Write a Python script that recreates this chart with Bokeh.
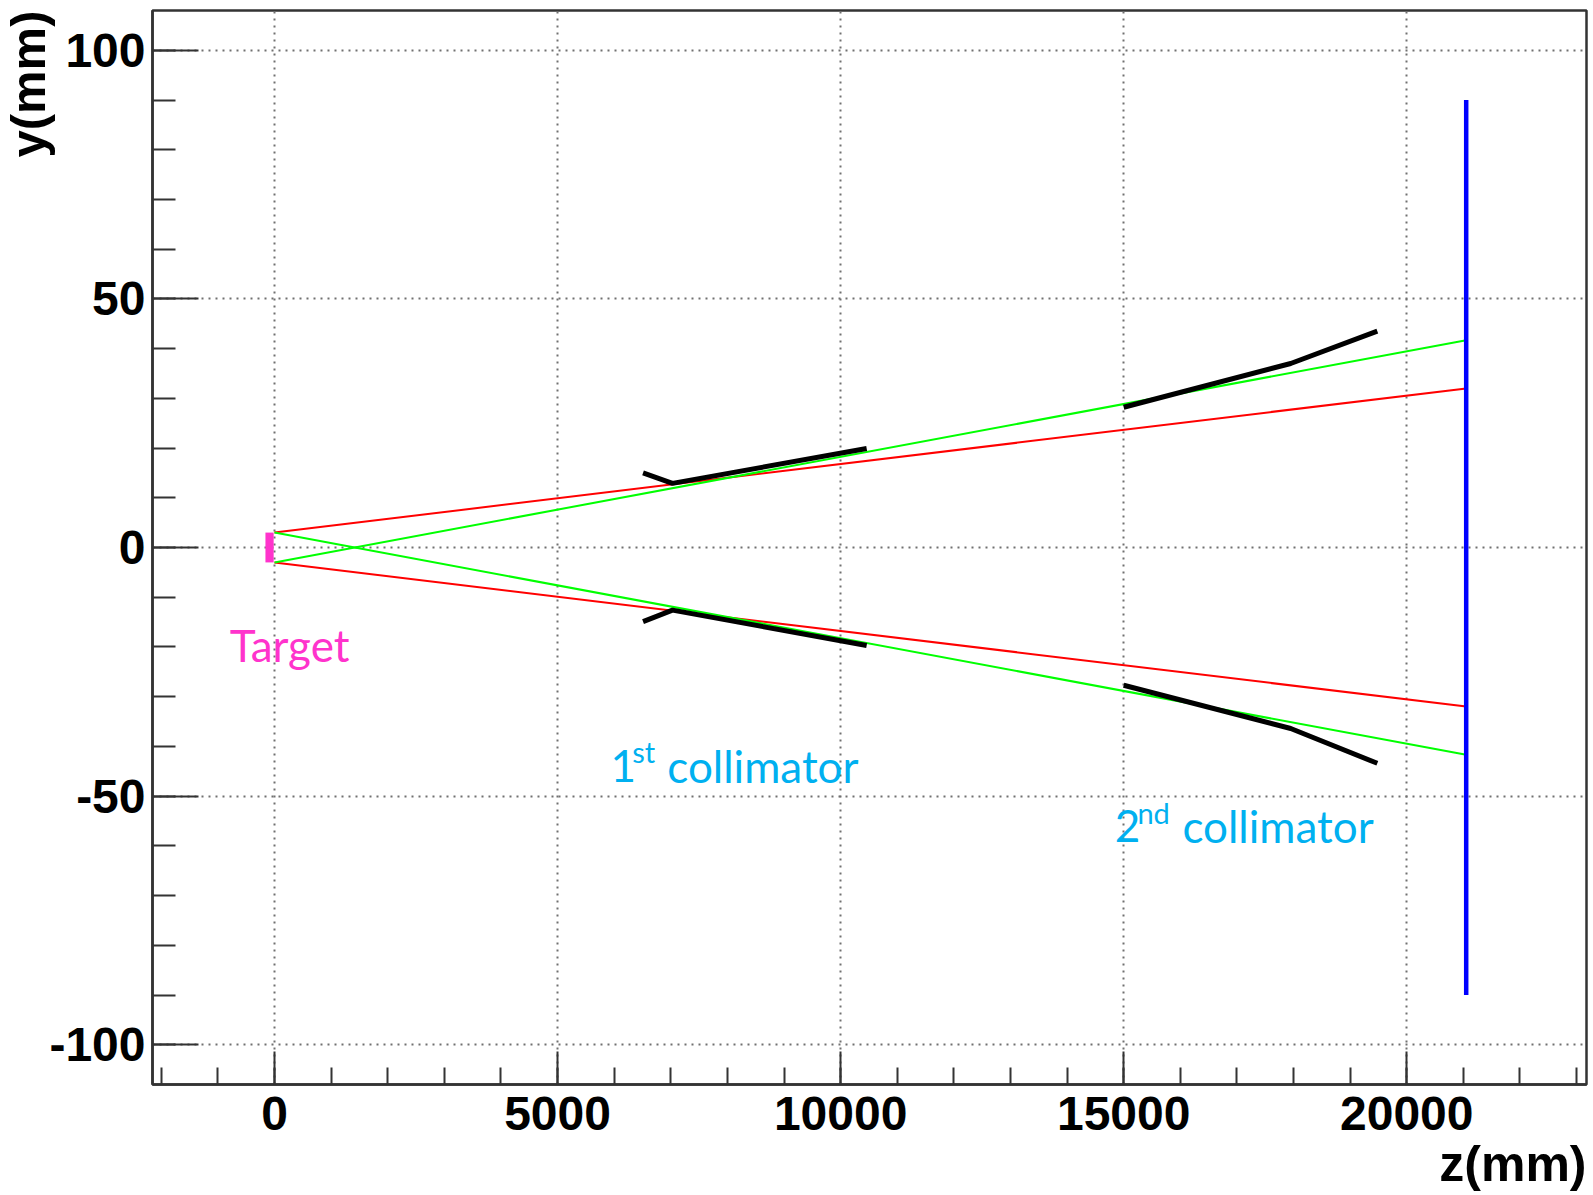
import math
from bokeh.plotting import figure
from bokeh.models import Range1d, FixedTicker, Label, CustomJSTickFormatter, Title
from bokeh.embed import file_html
from bokeh.resources import INLINE

# ---------------- data ----------------
z_ticks = [0, 5000, 10000, 15000, 20000]
z_minor = list(range(-2000, 23001, 1000))
y_ticks = [-100, -50, 0, 50, 100]
y_minor = list(range(-100, 101, 10))

line_z = [0, 21050]
red_upper = [3, 32]
red_lower = [-3, -32]
green_upper = [-3, 41.7]
green_lower = [3, -41.7]

coll1_z = [6510, 7030, 10460]
coll1_upper = [15.0, 12.9, 19.9]
coll1_lower = [-14.9, -12.6, -19.7]
coll2_z = [15000, 17950, 19480]
coll2_upper = [28.2, 37.0, 43.5]
coll2_lower = [-27.7, -36.4, -43.4]

detector_z = [21050, 21050]
detector_y = [-90, 90]

target_z = [-160, -15]
target_y = [-3, 3]

# ---------------- figure ----------------
p = figure(width=1588, height=1195,
           x_range=Range1d(-2155, 23175), y_range=Range1d(-108, 108),
           output_backend="svg", toolbar_location=None,
           min_border_left=152, min_border_right=2,
           min_border_top=10, min_border_bottom=111)

p.background_fill_color = "white"
p.border_fill_color = "white"
p.outline_line_color = "#333333"
p.outline_line_width = 2.5
p.outline_line_alpha = 1.0

frame_col = "#333333"
fmt = CustomJSTickFormatter(code="return String(tick);")
for ax in (p.xaxis[0], p.yaxis[0]):
    ax.formatter = fmt
    ax.axis_line_color = frame_col
    ax.axis_line_width = 2.5
    ax.major_tick_line_color = frame_col
    ax.minor_tick_line_color = frame_col
    ax.major_tick_line_width = 2
    ax.minor_tick_line_width = 2
    ax.major_tick_out = 0
    ax.minor_tick_out = 0
    ax.major_label_text_font = "Liberation Sans"
    ax.major_label_text_font_style = "bold"
    ax.major_label_text_font_size = "48px"
    ax.major_label_text_color = "black"

p.xaxis.ticker = FixedTicker(ticks=z_ticks, minor_ticks=z_minor)
p.yaxis.ticker = FixedTicker(ticks=y_ticks, minor_ticks=y_minor)
p.xaxis.major_tick_in = 33
p.xaxis.minor_tick_in = 17
p.yaxis.major_tick_in = 46
p.yaxis.minor_tick_in = 23
p.xaxis.major_label_standoff = 12
p.yaxis.major_label_standoff = 7

# axis titles, right/top aligned like ROOT
p.add_layout(Title(text="z(mm)", align="right", text_font="Liberation Sans",
                   text_font_style="bold", text_font_size="50px", text_color="black",
                   standoff=2, offset=0), "below")
p.add_layout(Title(text="y(mm)", align="right", text_font="Liberation Sans",
                   text_font_style="bold", text_font_size="49px", text_color="black",
                   standoff=-16, offset=0), "left")

for g in (p.xgrid[0], p.ygrid[0]):
    g.grid_line_color = "#707070"
    g.grid_line_width = 2
    g.grid_line_dash = "2 5"
p.xgrid.ticker = FixedTicker(ticks=z_ticks)
p.ygrid.ticker = FixedTicker(ticks=y_ticks)

# ---------------- marks ----------------
p.line(line_z, red_upper, line_color="#ff0000", line_width=2)
p.line(line_z, red_lower, line_color="#ff0000", line_width=2)
p.line(line_z, green_upper, line_color="#00ff00", line_width=2)
p.line(line_z, green_lower, line_color="#00ff00", line_width=2)

for yy in (coll1_upper, coll1_lower):
    p.line(coll1_z, yy, line_color="black", line_width=5)
for yy in (coll2_upper, coll2_lower):
    p.line(coll2_z, yy, line_color="black", line_width=5)

p.line(detector_z, detector_y, line_color="#0000ff", line_width=4.5)

p.quad(left=[target_z[0]], right=[target_z[1]], bottom=[target_y[0]], top=[target_y[1]],
       fill_color="#ff33cc", line_color=None)

# ---------------- text ----------------
def lab(x, y, text, size, color, font="Lato"):
    p.add_layout(Label(x=x, y=y, text=text, text_font=font, text_font_size=size,
                       text_color=color, text_baseline="alphabetic", text_align="left"))

mag = "#ff33cc"
cyan = "#00b0f0"
lab(-790, -19.7, "Target", "44px", mag)
lab(5936, -44.0, "1", "44px", cyan)
lab(6320, -41.1, "st", "29px", cyan)
lab(6938, -44.0, "collimator", "44px", cyan)
lab(14841, -56.05, "2", "44px", cyan)
lab(15242, -53.2, "nd", "29px", cyan)
lab(16037, -56.05, "collimator", "44px", cyan)

open("out.html", "w").write(file_html(p, INLINE))
